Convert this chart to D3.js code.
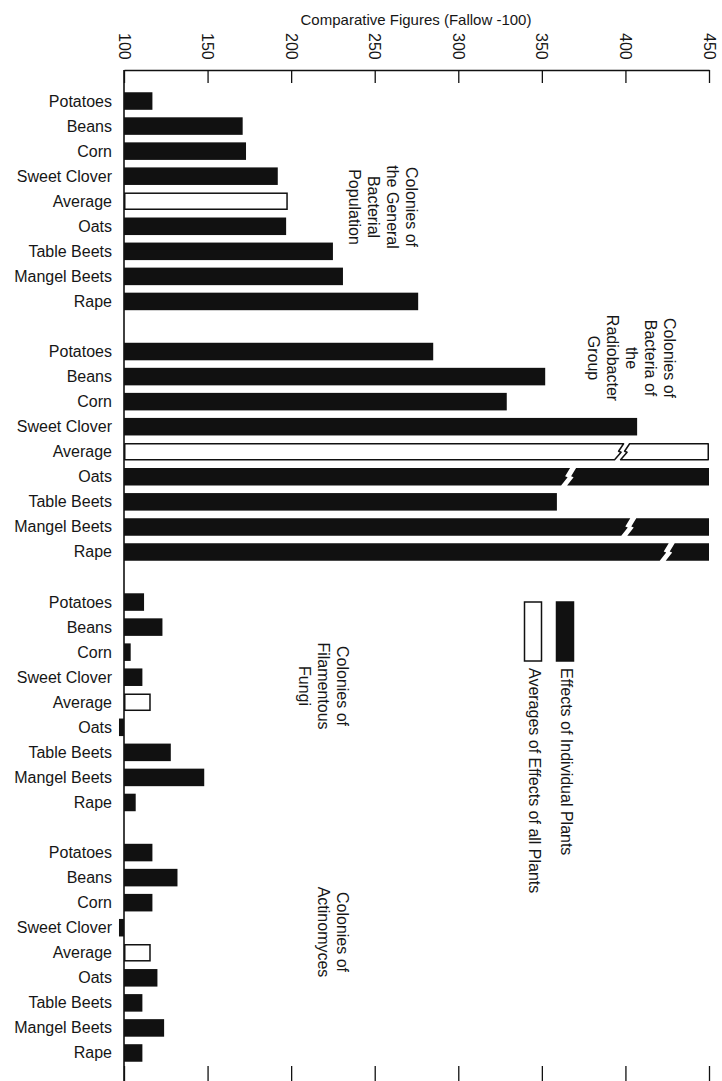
<!DOCTYPE html>
<html>
<head>
<meta charset="utf-8">
<script src="https://cdn.jsdelivr.net/npm/d3@7/dist/d3.min.js"></script>
<style>
  html, body { margin: 0; padding: 0; background: #fff; }
  svg { display: block; }
  text { font-family: "Liberation Sans", Arial, sans-serif; fill: #161616; }
</style>
</head>
<body>
<svg id="chart" width="722" height="1081"></svg>
<script>
// Plants compared in every group; "Average" is the mean of the eight plants.
const categories = ["Potatoes", "Beans", "Corn", "Sweet Clover", "Average", "Oats", "Table Beets", "Mangel Beets", "Rape"];

// Comparative figures (fallow = 100) per group of soil organisms.
const generalBacteria = [117, 171, 173, 192, 198, 197, 225, 231, 276];
// Values of 450 run past the end of the scale and are drawn with a break.
const radiobacter = [285, 352, 329, 407, 450, 450, 359, 450, 450];
const radiobacterBreaks = [null, null, null, null, 398, 366, null, 402, 425];
const filamentousFungi = [112, 123, 104, 111, 116, 97, 128, 148, 107];
const actinomyces = [117, 132, 117, 97, 116, 120, 111, 124, 111];

const groupNames = [
  ["Colonies of", "the General", "Bacterial", "Population"],
  ["Colonies of", "Bacteria of", "the", "Radiobacter", "Group"],
  ["Colonies of", "Filamentous", "Fungi"],
  ["Colonies of", "Actinomyces"]
];

const axisTicks = [100, 150, 200, 250, 300, 350, 400, 450];
const axisTitle = "Comparative Figures (Fallow -100)";
const legendLabels = ["Effects of Individual Plants", "Averages of Effects of all Plants"];

// ---- layout ----
const svg = d3.select("#chart");
const groups = [
  { values: generalBacteria, breaks: null },
  { values: radiobacter, breaks: radiobacterBreaks },
  { values: filamentousFungi, breaks: null },
  { values: actinomyces, breaks: null }
];

// one row per bar, with an empty row between groups
const rows = [];
groups.forEach((g, gi) => {
  g.values.forEach((v, i) => {
    rows.push({
      key: gi + "-" + i,
      group: gi,
      label: categories[i],
      value: v,
      isAverage: categories[i] === "Average",
      brk: g.breaks ? g.breaks[i] : null
    });
  });
  if (gi < groups.length - 1) rows.push({ key: "gap" + gi, spacer: true });
});

const x = d3.scaleLinear().domain([100, 450]).range([124, 709]);
const y = d3.scaleBand()
  .domain(rows.map(r => r.key))
  .range([88.5, 1065.5])
  .paddingInner(0.3)
  .paddingOuter(0.15);

const axisY = 70;
const ink = "#111";

// title
svg.append("text")
  .attr("x", 416).attr("y", 19)
  .attr("text-anchor", "middle")
  .attr("dominant-baseline", "central")
  .style("font-size", "15px")
  .text(axisTitle);

// top axis
const topAxis = d3.axisTop(x).tickValues(axisTicks).tickSize(-13).tickSizeOuter(0).tickFormat("");
const gAxis = svg.append("g").attr("transform", `translate(0,${axisY})`).call(topAxis);
gAxis.select(".domain").attr("stroke", ink).attr("stroke-width", 1.3);
gAxis.selectAll(".tick line").attr("stroke", ink).attr("stroke-width", 1.3);

// rotated tick labels
svg.append("g").selectAll("text")
  .data(axisTicks)
  .join("text")
  .attr("transform", d => `translate(${x(d)},33) rotate(90)`)
  .attr("text-anchor", "start")
  .attr("dominant-baseline", "central")
  .style("font-size", "16px")
  .text(d => d);

// bottom ticks
const bottomAxis = d3.axisBottom(x).tickValues(axisTicks).tickSize(16).tickSizeOuter(0).tickFormat("");
const gBottom = svg.append("g").attr("transform", "translate(0,1066)").call(bottomAxis);
gBottom.select(".domain").remove();
gBottom.selectAll(".tick line").attr("stroke", ink).attr("stroke-width", 1.3);

// baseline at 100
svg.append("line")
  .attr("x1", x(100)).attr("x2", x(100))
  .attr("y1", axisY).attr("y2", 1081)
  .attr("stroke", ink).attr("stroke-width", 1.6);

const bars = rows.filter(r => !r.spacer);

// category labels
svg.append("g").selectAll("text")
  .data(bars)
  .join("text")
  .attr("x", 112)
  .attr("y", d => y(d.key) + y.bandwidth() / 2)
  .attr("text-anchor", "end")
  .attr("dominant-baseline", "central")
  .style("font-size", "16px")
  .text(d => d.label);

// plain bars
const gBars = svg.append("g");
gBars.selectAll("rect")
  .data(bars.filter(d => d.brk == null))
  .join("rect")
  .attr("x", d => Math.min(x(d.value), x(100)) + (d.isAverage ? 0.75 : 0))
  .attr("y", d => y(d.key) + (d.isAverage ? 0.75 : 0))
  .attr("width", d => Math.abs(x(d.value) - x(100)) - (d.isAverage ? 1.5 : 0))
  .attr("height", d => y.bandwidth() - (d.isAverage ? 1.5 : 0))
  .attr("fill", d => d.isAverage ? "#fff" : ink)
  .attr("stroke", d => d.isAverage ? ink : "none")
  .attr("stroke-width", 1.5);

// bars that run off the scale, cut by a jagged break
function brokenPieces(d) {
  const inset = d.isAverage ? 0.75 : 0;
  const t = y(d.key) + inset, b = y(d.key) + y.bandwidth() - inset, m = (t + b) / 2;
  const c = x(d.brk), gap = 6;
  // jagged edge running from top-right down to bottom-left
  const edge = cx => [[cx + 4.5, t], [cx - 0.5, m - 0.5], [cx + 2, m + 0.5], [cx - 4.5, b]];
  const le = edge(c - gap / 2), re = edge(c + gap / 2);
  const x0 = x(100) + inset, x1 = x(d.value) - inset;
  const left = [[x0, t], ...le, [x0, b]];
  const right = [...re, [x1, b], [x1, t]];
  return [left, right];
}
const gBroken = svg.append("g");
bars.filter(d => d.brk != null).forEach(d => {
  brokenPieces(d).forEach(pts => {
    gBroken.append("path")
      .attr("d", d3.line()(pts) + "Z")
      .attr("fill", d.isAverage ? "#fff" : ink)
      .attr("stroke", d.isAverage ? ink : "none")
      .attr("stroke-width", 1.5)
      .attr("stroke-linejoin", "round");
  });
});

// group names, written sideways
const groupPlacement = [
  { x: 412, y: 207 },
  { x: 670, y: 358 },
  { x: 343, y: 686 },
  { x: 343, y: 932 }
];
groupNames.forEach((lines, i) => {
  const p = groupPlacement[i];
  const t = svg.append("text")
    .attr("transform", `translate(${p.x},${p.y}) rotate(90)`)
    .attr("text-anchor", "middle")
    .attr("dominant-baseline", "central")
    .style("font-size", "16px");
  lines.forEach((ln, j) => {
    t.append("tspan").attr("x", 0).attr("dy", j === 0 ? 0 : 19).text(ln);
  });
});

// legend
const legend = svg.append("g");
const legendItems = [
  { label: legendLabels[0], fill: ink, cx: 565 },
  { label: legendLabels[1], fill: "#fff", cx: 533 }
];
legendItems.forEach(it => {
  legend.append("rect")
    .attr("x", it.cx - 8.5).attr("y", 602)
    .attr("width", 17).attr("height", 59)
    .attr("fill", it.fill)
    .attr("stroke", ink).attr("stroke-width", 1.5);
  legend.append("text")
    .attr("transform", `translate(${it.cx + 1},668) rotate(90)`)
    .attr("text-anchor", "start")
    .attr("dominant-baseline", "central")
    .style("font-size", "16px")
    .text(it.label);
});
</script>
</body>
</html>
